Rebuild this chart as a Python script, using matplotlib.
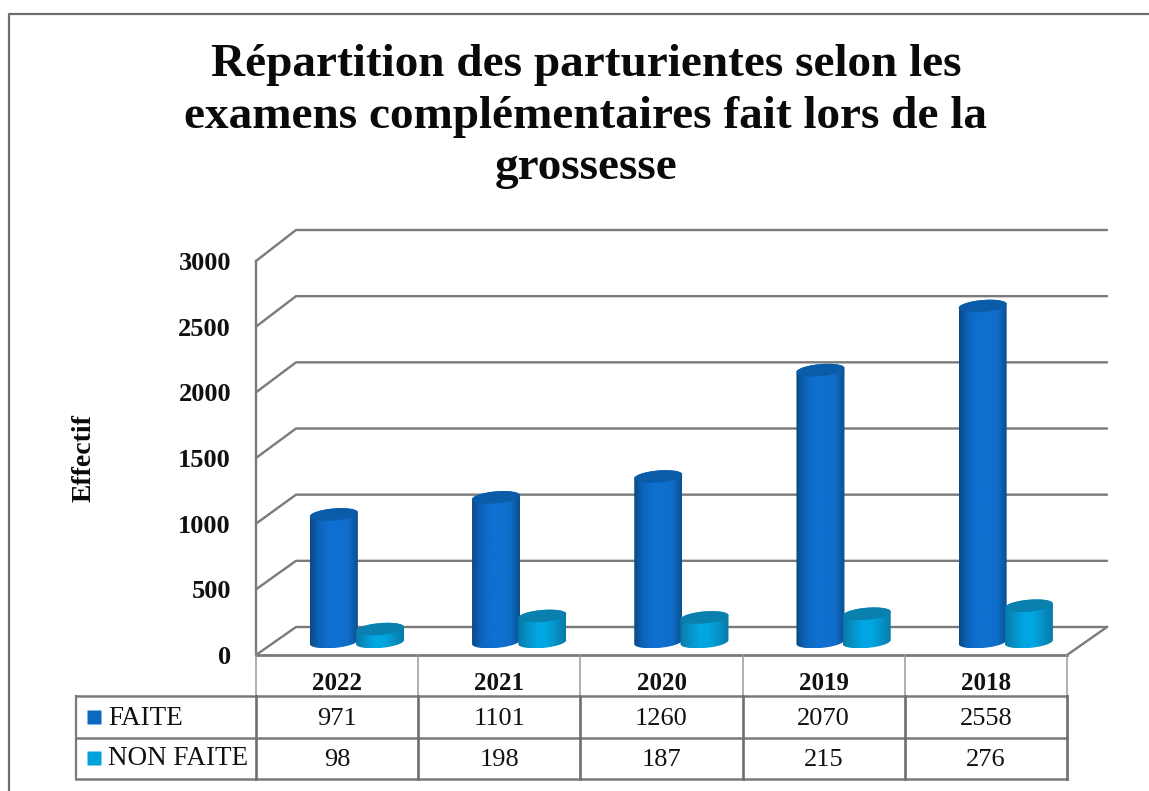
import numpy as np
import matplotlib
matplotlib.use("Agg")
import matplotlib.pyplot as plt
from matplotlib.colors import LinearSegmentedColormap
from matplotlib.patches import Polygon

plt.rcParams['font.family'] = ['Liberation Serif', 'DejaVu Serif']

years = ['2022', '2021', '2020', '2019', '2018']
faite = [971, 1101, 1260, 2070, 2558]
non_faite = [98, 198, 187, 215, 276]
yticks = [0, 500, 1000, 1500, 2000, 2500, 3000]
series_names = ['FAITE', 'NON FAITE']
title = "Répartition des parturientes selon les\nexamens complémentaires fait lors de la\ngrossesse"

W, H = 1149, 791
LINE = '#7a7a7a'

fig = plt.figure(figsize=(W / 100, H / 100), dpi=100)

# whole page in pixels, for the outer frame and the title
bg = fig.add_axes([0, 0, 1, 1])
bg.set_xlim(0, W)
bg.set_ylim(H, 0)
bg.axis('off')
bg.plot([9, 9, W], [H, 14, 14], color='#6e6e6e', lw=1.6)
bg.text(586, 116.5, title, ha='center', va='center', fontsize=34, fontweight='bold',
        linespacing=1.29, color='#0a0a0a')

# front plane of the chart
ax = fig.add_axes([256 / W, (H - 655) / H, 811 / W, 394 / H])
ax.patch.set_alpha(0)
PX_X = 5 / 811
PX_Y = 3000 / 394
depth_x = 40 * PX_X
depth_y = 28 * PX_Y

# walls and floor, back plane is a touch taller than the front one
for v in yticks:
    back = v * 397 / 394 + depth_y
    ax.plot([0, depth_x, 5 + depth_x], [v, back, back], color=LINE, lw=1.7,
            clip_on=False, zorder=1, solid_capstyle='round')
ax.plot([5, 5 + depth_x], [0, depth_y], color=LINE, lw=1.7, clip_on=False, zorder=1)


def cylinder(xc, val, cmap, top_color, z):
    hw = 24 * PX_X
    hh = 6 * PX_Y
    tilt = 2 * PX_Y
    lift = 13 * PX_Y
    t = np.linspace(0, np.pi, 60)
    # lower half of the base, upper half of the top
    xb = xc - hw * np.cos(t)
    yb = lift - hh * np.sin(t) + tilt * (xb - xc) / hw
    xt = xc + hw * np.cos(t)
    yt = val + lift + hh * np.sin(t) + tilt * (xt - xc) / hw
    body = Polygon(np.column_stack([np.r_[xb, xt], np.r_[yb, yt]]), closed=True,
                   facecolor='none', edgecolor='none', zorder=z)
    ax.add_patch(body)
    grad = np.linspace(0, 1, 128).reshape(1, -1)
    im = ax.imshow(grad, extent=(xc - hw, xc + hw, yb.min(), yt.max()), aspect='auto',
                   cmap=cmap, interpolation='bilinear', zorder=z)
    im.set_clip_path(body)
    tt = np.linspace(0, 2 * np.pi, 100)
    xe = xc + hw * np.cos(tt)
    ye = val + lift + hh * np.sin(tt) + tilt * (xe - xc) / hw
    ax.add_patch(Polygon(np.column_stack([xe, ye]), closed=True, facecolor=top_color,
                         edgecolor='none', zorder=z + 0.1))


cmap_dark = LinearSegmentedColormap.from_list('d', ['#0a4a86', '#0d66bd', '#0f70d0', '#0f70d0', '#0f6ec9', '#0a4f90'])
cmap_light = LinearSegmentedColormap.from_list('l', ['#0579a8', '#0792c8', '#01a7e4', '#01a5e0', '#0790c4', '#067aa8'])

for i in range(len(years)):
    cylinder(i + 0.48, faite[i], cmap_dark, '#0b5ca8', 3 + i * 0.01)
for i in range(len(years)):
    cylinder(i + 0.765, non_faite[i], cmap_light, '#0a80ae', 4 + i * 0.01)

ax.set_xlim(0, 5)
ax.set_ylim(0, 3000)
ax.set_xticks([])
ax.set_yticks(yticks)
ax.tick_params(axis='y', length=0, pad=18, labelsize=19)
for lab in ax.get_yticklabels():
    lab.set_fontweight('bold')
    lab.set_color('#111111')
for s in ['top', 'right', 'bottom']:
    ax.spines[s].set_visible(False)
ax.spines['left'].set_color(LINE)
ax.spines['left'].set_linewidth(1.7)
ax.set_ylabel('Effectif', fontsize=20, fontweight='bold', color='#0a0a0a')
ax.yaxis.set_label_coords(-0.197, 0.5)

# data table under the chart, one unit per category and per row
tab = fig.add_axes([256 / W, (H - 779) / H, 811 / W, 124 / H])
tab.set_xlim(0, 5)
tab.set_ylim(3, 0)
tab.axis('off')
left = -180 * PX_X
tab.plot([0, 5], [0, 0], color=LINE, lw=2, clip_on=False)
for r in [1, 2, 3]:
    tab.plot([left, 5], [r, r], color=LINE, lw=1.8, clip_on=False)
tab.plot([left, left], [1, 3], color=LINE, lw=1.6, clip_on=False)
for c in range(6):
    tab.plot([c, c], [0, 1], color='#9a9a9a', lw=1.1, clip_on=False)
    tab.plot([c, c], [1, 3], color='#6e6e6e', lw=1.9, clip_on=False)

for i in range(len(years)):
    tab.text(i + 0.5, 0.68, years[i], ha='center', va='center', fontsize=18, fontweight='bold', color='#111111')
    tab.text(i + 0.5, 1.55, str(faite[i]), ha='center', va='center', fontsize=19, color='#111111')
    tab.text(i + 0.5, 2.53, str(non_faite[i]), ha='center', va='center', fontsize=19, color='#111111')

swatch_x = -162 * PX_X
text_x = -148 * PX_X
for row, name, col in zip([1.5, 2.48], series_names, ['#0d68c0', '#00a0dc']):
    tab.plot([swatch_x], [row], marker='s', ms=10.5, color=col, mec='none', clip_on=False)
    tab.text(text_x, row + 0.03, name, ha='left', va='center', fontsize=19.5, color='#111111')

fig.savefig('out.png', dpi=100)
